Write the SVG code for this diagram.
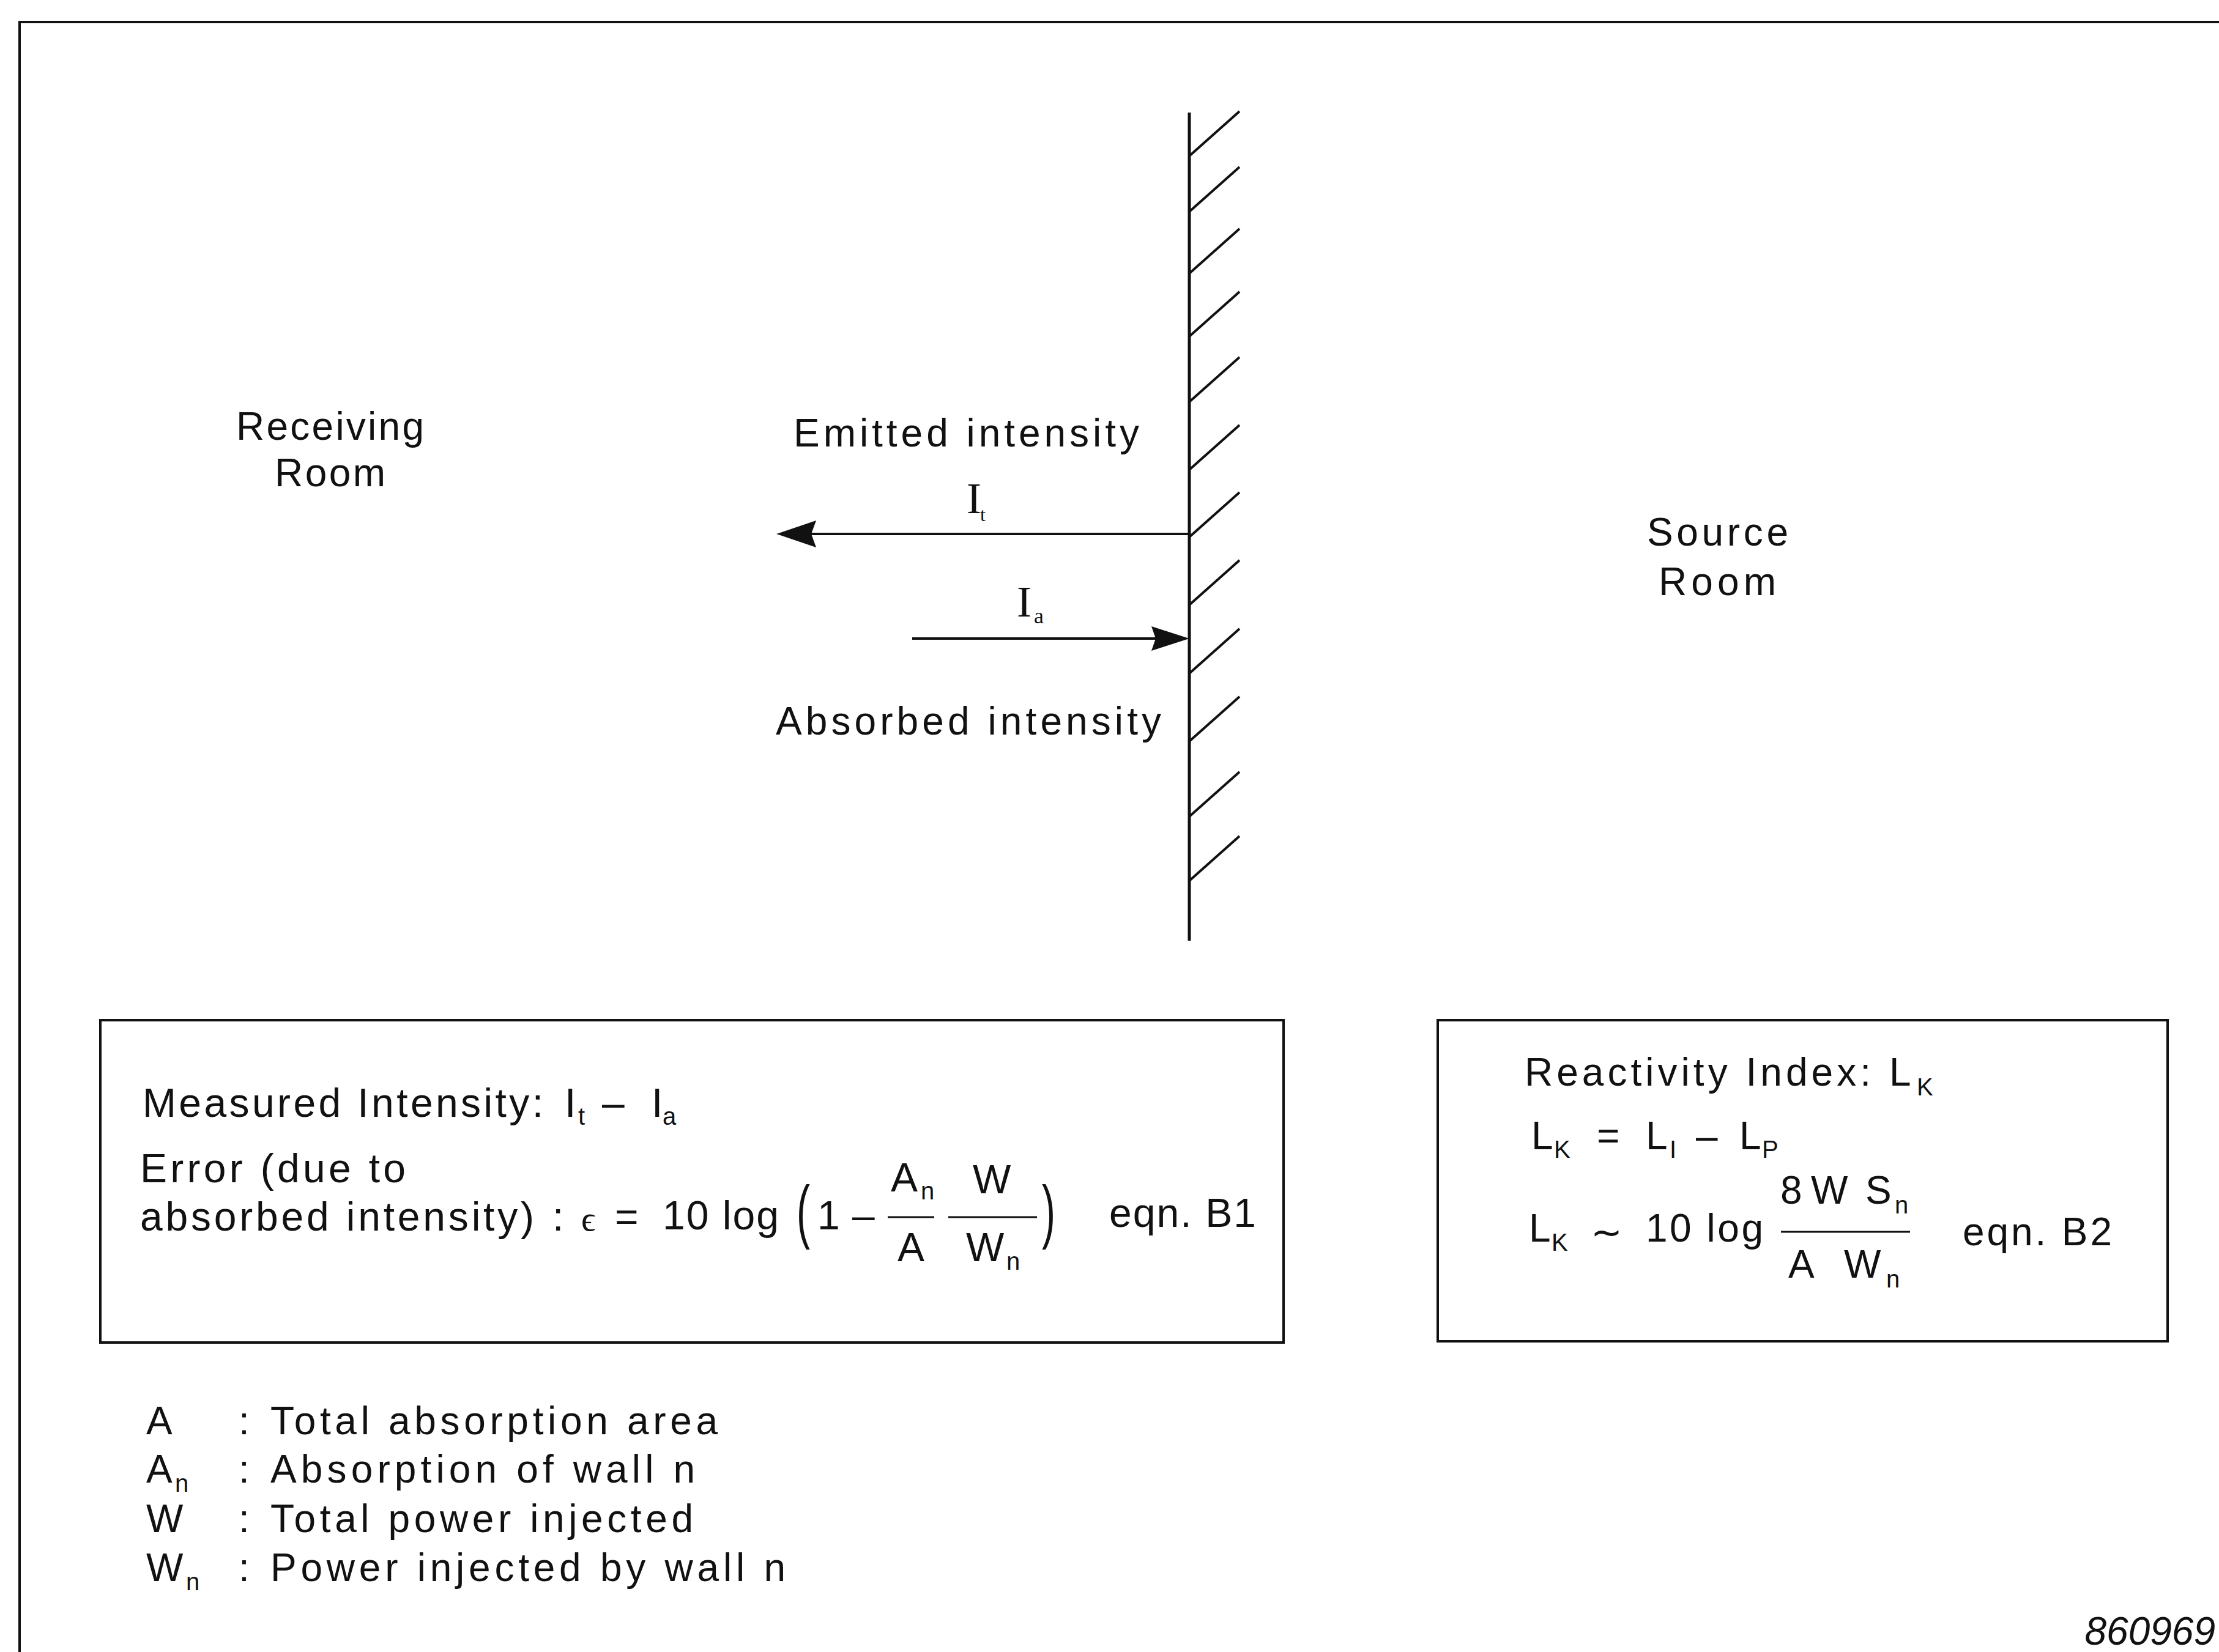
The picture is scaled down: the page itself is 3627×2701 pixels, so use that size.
<svg xmlns="http://www.w3.org/2000/svg" width="3627" height="2701" viewBox="0 0 3627 2701">
<style>
.t{font-family:"Liberation Sans",Arial,Helvetica,sans-serif;fill:#111;font-size:64px}
.b{font-size:66px}
.sub{font-size:40px}
.sr{font-family:"Liberation Serif","Times New Roman",serif;fill:#111}
.ln{stroke:#111;fill:none;stroke-linecap:butt}
.ah{fill:#111;stroke:none}
</style>
<rect x="0" y="0" width="3627" height="2701" fill="#fff"/>

<g id="frame">
<line class="ln" x1="30" y1="36" x2="3627" y2="36" stroke-width="4"/>
<line class="ln" x1="32" y1="34" x2="32" y2="2701" stroke-width="4"/>
</g>

<g id="wall">
<line class="ln" x1="1944" y1="184" x2="1944" y2="1538" stroke-width="5"/>
<g class="ln" stroke-width="4">
<line x1="1944" y1="255" x2="2026" y2="182"/>
<line x1="1944" y1="346" x2="2026" y2="273"/>
<line x1="1944" y1="447" x2="2026" y2="374"/>
<line x1="1944" y1="550" x2="2026" y2="477"/>
<line x1="1944" y1="657" x2="2026" y2="584"/>
<line x1="1944" y1="768" x2="2026" y2="695"/>
<line x1="1944" y1="878" x2="2026" y2="805"/>
<line x1="1944" y1="989" x2="2026" y2="916"/>
<line x1="1944" y1="1101" x2="2026" y2="1028"/>
<line x1="1944" y1="1212" x2="2026" y2="1139"/>
<line x1="1944" y1="1335" x2="2026" y2="1262"/>
<line x1="1944" y1="1440" x2="2026" y2="1367"/>
</g>
</g>

<g id="receiving-room">
<text class="t" x="386" y="719" font-size="62" textLength="307" lengthAdjust="spacing">Receiving</text>
<text class="t" x="449" y="795" font-size="62" textLength="181" lengthAdjust="spacing">Room</text>
</g>

<g id="source-room">
<text class="t" x="2692" y="892" font-size="62" textLength="231" lengthAdjust="spacing">Source</text>
<text class="t" x="2711" y="973" font-size="62" textLength="192" lengthAdjust="spacing">Room</text>
</g>

<g id="emitted-label">
<text class="t" x="1297" y="730" font-size="62" textLength="565" lengthAdjust="spacing">Emitted intensity</text>
<text class="sr" x="1580" y="839" font-size="72">I</text>
<text class="sr" x="1602" y="852" font-size="32">t</text>
</g>

<g id="absorbed-label">
<text class="t" x="1268" y="1201" font-size="62" textLength="630" lengthAdjust="spacing">Absorbed intensity</text>
<text class="sr" x="1662" y="1008" font-size="72">I</text>
<text class="sr" x="1690" y="1019" font-size="36">a</text>
</g>

<g id="connectors">
<line class="ln" x1="1944" y1="873" x2="1320" y2="873" stroke-width="4"/>
<polygon class="ah" points="1269,873 1334,851 1326,873 1334,895"/>
<line class="ln" x1="1491" y1="1044" x2="1895" y2="1044" stroke-width="4"/>
<polygon class="ah" points="1944,1044 1882,1024 1889,1044 1882,1064"/>
</g>

<g id="error-box">
<rect class="ln" x="164" y="1668" width="1934" height="527" stroke-width="4"/>
<text class="t b" x="233" y="1826" textLength="655" lengthAdjust="spacing">Measured Intensity:</text>
<text class="t b" x="923" y="1826">I</text>
<text class="t sub" x="945" y="1839">t</text>
<text class="t b" x="984" y="1826">–</text>
<text class="t b" x="1065" y="1826">I</text>
<text class="t sub" x="1083" y="1839">a</text>
<text class="t b" x="229" y="1933" textLength="434" lengthAdjust="spacing">Error (due to</text>
<text class="t b" x="229" y="2012" textLength="644" lengthAdjust="spacing">absorbed intensity)</text>
<text class="t b" x="903" y="2012">:</text>
<text class="sr" x="950" y="2012" font-size="58">ϵ</text>
<text class="t b" x="1005" y="2012">=</text>
<text class="t b" x="1083" y="2010" textLength="190" lengthAdjust="spacing">10 log</text>
<text class="t b" transform="translate(1302,2019) scale(1,1.75)">(</text>
<text class="t b" x="1336" y="2010">1</text>
<text class="t b" x="1393" y="2010">–</text>
<line class="ln" x1="1451" y1="1990" x2="1527" y2="1990" stroke-width="3"/>
<text class="t b" x="1456" y="1948">A</text>
<text class="t sub" x="1505" y="1961">n</text>
<text class="t b" x="1467" y="2062">A</text>
<line class="ln" x1="1550" y1="1990" x2="1695" y2="1990" stroke-width="3"/>
<text class="t b" x="1590" y="1951">W</text>
<text class="t b" x="1579" y="2062">W</text>
<text class="t sub" x="1645" y="2076">n</text>
<text class="t b" transform="translate(1703,2019) scale(1,1.75)">)</text>
<text class="t b" x="1813" y="2006" textLength="240" lengthAdjust="spacing">eqn. B1</text>
</g>

<g id="reactivity-box">
<rect class="ln" x="2350" y="1668" width="1193" height="525" stroke-width="4"/>
<text class="t" x="2492" y="1775" textLength="566" lengthAdjust="spacing">Reactivity Index:</text>
<text class="t" x="3088" y="1775">L</text>
<text class="t sub" x="3133" y="1791">K</text>
<text class="t" x="2503" y="1879">L</text>
<text class="t sub" x="2540" y="1893">K</text>
<text class="t" x="2610" y="1879">=</text>
<text class="t" x="2690" y="1879">L</text>
<text class="t sub" x="2729" y="1893">I</text>
<text class="t" x="2772" y="1879">–</text>
<text class="t" x="2843" y="1879">L</text>
<text class="t sub" x="2880" y="1893">P</text>
<text class="t" x="2499" y="2030">L</text>
<text class="t sub" x="2536" y="2045">K</text>
<text x="2600" y="2036" font-size="62" font-family="'DejaVu Sans',sans-serif" fill="#111">∼</text>
<text class="t" x="2690" y="2030" textLength="192" lengthAdjust="spacing">10 log</text>
<line class="ln" x1="2911" y1="2014" x2="3122" y2="2014" stroke-width="3"/>
<text class="t" x="2910" y="1968">8</text>
<text class="t" x="2960" y="1968">W</text>
<text class="t" x="3049" y="1968">S</text>
<text class="t sub" x="3097" y="1984">n</text>
<text class="t" x="2923" y="2089">A</text>
<text class="t" x="3014" y="2089">W</text>
<text class="t sub" x="3083" y="2105">n</text>
<text class="t" x="3208" y="2036" textLength="244" lengthAdjust="spacing">eqn. B2</text>
</g>

<g id="legend">
<text class="t" x="239" y="2345" font-size="63">A</text>
<text class="t" x="390" y="2345" font-size="63">:</text>
<text class="t" x="442" y="2345" font-size="63" textLength="731" lengthAdjust="spacing">Total absorption area</text>
<text class="t" x="239" y="2424" font-size="63">A</text>
<text class="t sub" x="286" y="2439">n</text>
<text class="t" x="390" y="2424" font-size="63">:</text>
<text class="t" x="442" y="2424" font-size="63" textLength="694" lengthAdjust="spacing">Absorption of wall n</text>
<text class="t" x="239" y="2505" font-size="63">W</text>
<text class="t" x="390" y="2505" font-size="63">:</text>
<text class="t" x="442" y="2505" font-size="63" textLength="691" lengthAdjust="spacing">Total power injected</text>
<text class="t" x="239" y="2585" font-size="63">W</text>
<text class="t sub" x="304" y="2600">n</text>
<text class="t" x="390" y="2585" font-size="63">:</text>
<text class="t" x="442" y="2585" font-size="63" textLength="842" lengthAdjust="spacing">Power injected by wall n</text>
</g>

<g id="figure-number">
<text class="t" x="3621" y="2689" font-size="50" font-style="italic" text-anchor="end">860969</text>
</g>
</svg>
